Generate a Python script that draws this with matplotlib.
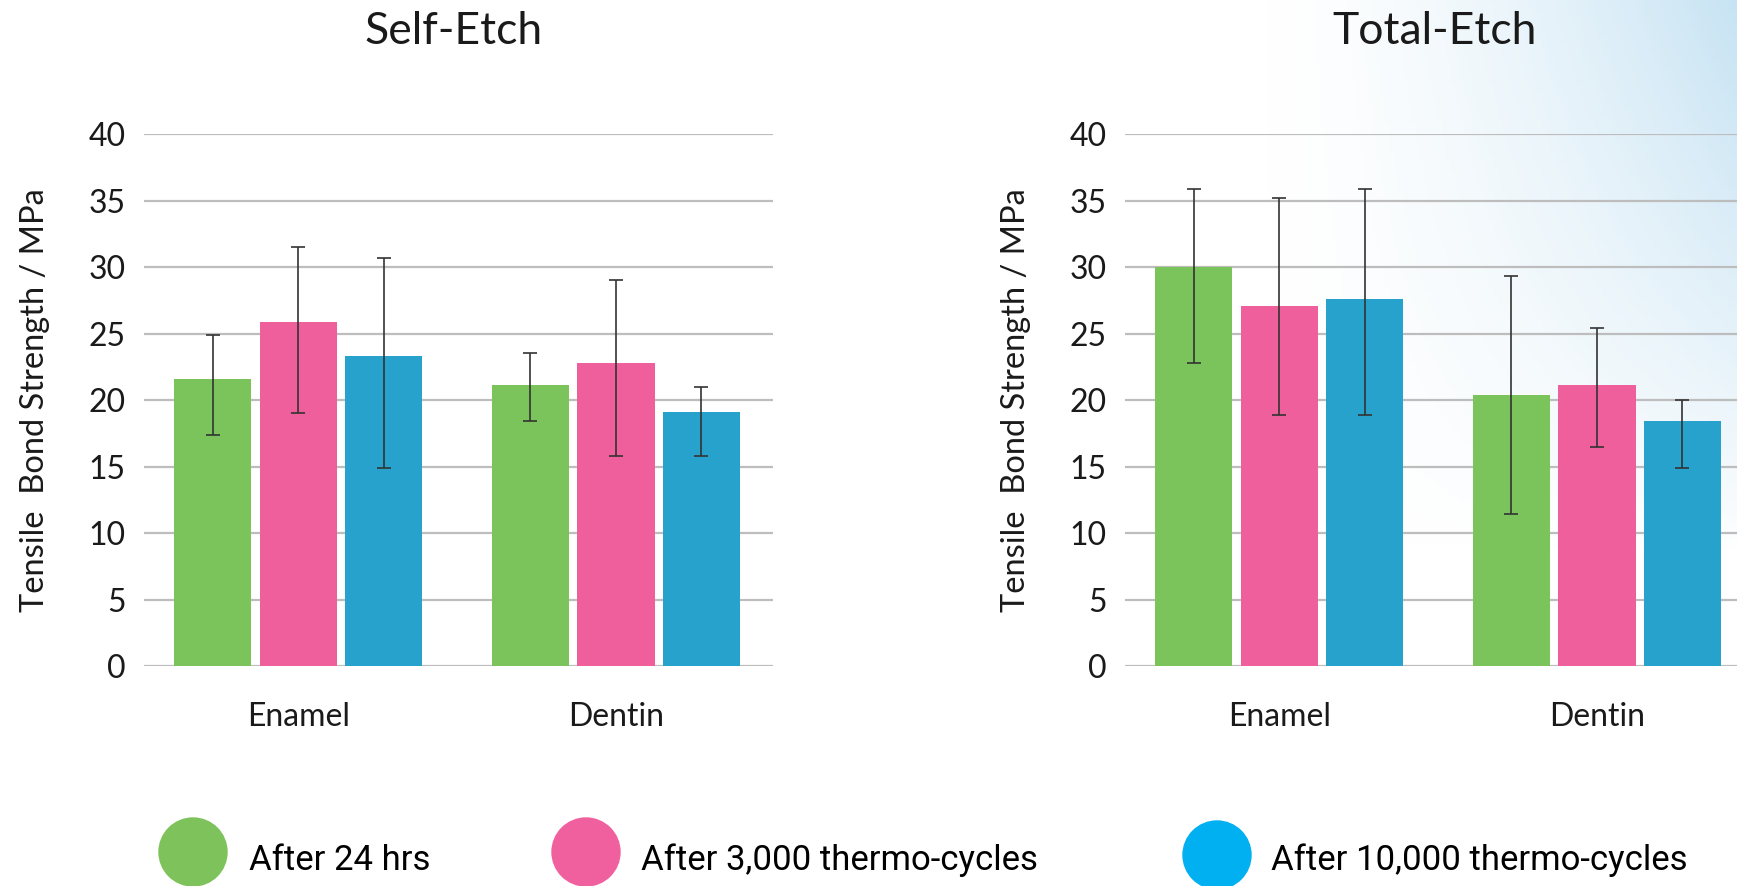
import numpy as np
import matplotlib
matplotlib.use('Agg')
import matplotlib.pyplot as plt
from matplotlib.patches import Ellipse

plt.rcParams['font.family'] = ['Lato', 'DejaVu Sans']

# Data
categories = ['Enamel', 'Dentin']
series = ['After 24 hrs', 'After 3,000 thermo-cycles', 'After 10,000 thermo-cycles']

self_mean = [[21.6, 21.1], [25.9, 22.8], [23.3, 19.1]]
self_low = [[17.4, 18.4], [19.0, 15.8], [14.9, 15.8]]
self_high = [[24.9, 23.5], [31.5, 29.0], [30.7, 21.0]]

total_mean = [[30.0, 20.4], [27.1, 21.1], [27.6, 18.4]]
total_low = [[22.8, 11.4], [18.9, 16.5], [18.9, 14.9]]
total_high = [[35.9, 29.3], [35.2, 25.4], [35.9, 20.0]]

bar_colors = ['#7BC35B', '#EF5F9C', '#27A2CC']
legend_colors = ['#7DC25A', '#F0609E', '#00B0F0']
yticks = [0, 5, 10, 15, 20, 25, 30, 35, 40]

W, H = 1737, 886
fig = plt.figure(figsize=(W / 100, H / 100), dpi=100)

# light blue wash in the top-right corner
bg = fig.add_axes([0, 0, 1, 1], zorder=-10)
xx, yy = np.meshgrid(np.linspace(0, 1, 400), np.linspace(0, 1, 200))
a = np.clip((xx - 0.72) / 0.28, 0, 1) ** 1.6 * np.clip(1 - yy / 0.62, 0, 1) ** 0.8
img = np.ones((200, 400, 4))
img[..., 0] = 0.76
img[..., 1] = 0.88
img[..., 2] = 0.95
img[..., 3] = a * 0.9
bg.imshow(img, extent=[0, 1, 0, 1], aspect='auto', origin='upper')
bg.axis('off')


def draw_panel(left_px, title, means, lows, highs):
    ax = fig.add_axes([left_px / W, 1 - 666 / H, 629 / W, 532 / H])
    ax.set_facecolor('none')
    x = np.arange(len(categories))
    width = 0.2425
    pitch = 0.269
    for i in range(len(series)):
        m = np.array(means[i])
        err = [m - np.array(lows[i]), np.array(highs[i]) - m]
        ax.bar(x + (i - 1) * pitch, m, width, color=bar_colors[i], zorder=2,
               yerr=err, capsize=5,
               error_kw=dict(ecolor='#333333', elinewidth=1.2, capthick=1.2, zorder=3))
    ax.set_ylim(0, 40)
    ax.set_xlim(-0.485, 1.494)
    ax.set_yticks(yticks)
    ax.set_yticklabels([str(t) for t in yticks], fontsize=23, color='#1a1a1a')
    ax.set_xticks(x)
    ax.set_xticklabels(categories, fontsize=23, color='#1a1a1a')
    ax.tick_params(axis='y', length=0, pad=13)
    ax.tick_params(axis='x', length=0, pad=26)
    ax.yaxis.grid(True, color='#BDBDBD', linewidth=1.6, zorder=0)
    ax.set_axisbelow(True)
    for s in ax.spines.values():
        s.set_visible(False)
    ax.set_ylabel('Tensile  Bond Strength / MPa', fontsize=23.5, color='#1a1a1a', labelpad=28)
    fig.text((left_px + 310) / W, 1 - 31 / H, title, fontsize=32, color='#1a1a1a',
             ha='center', va='center')
    return ax


draw_panel(144, 'Self-Etch', self_mean, self_low, self_high)
draw_panel(1125, 'Total-Etch', total_mean, total_low, total_high)

# legend built by hand: coloured discs with text
leg_x = [193, 586, 1217]
leg_y = [852, 852, 855]
txt_x = [249, 641, 1271]
for i, lab in enumerate(series):
    e = Ellipse((leg_x[i] / W, 1 - leg_y[i] / H), 68 / W, 68 / H,
                transform=fig.transFigure, color=legend_colors[i], zorder=5)
    fig.patches.append(e)
    fig.text(txt_x[i] / W, 1 - 860 / H, lab, fontsize=25, color='black',
             ha='left', va='center', family=['Roboto', 'DejaVu Sans'])

fig.savefig('out.png', dpi=100)
